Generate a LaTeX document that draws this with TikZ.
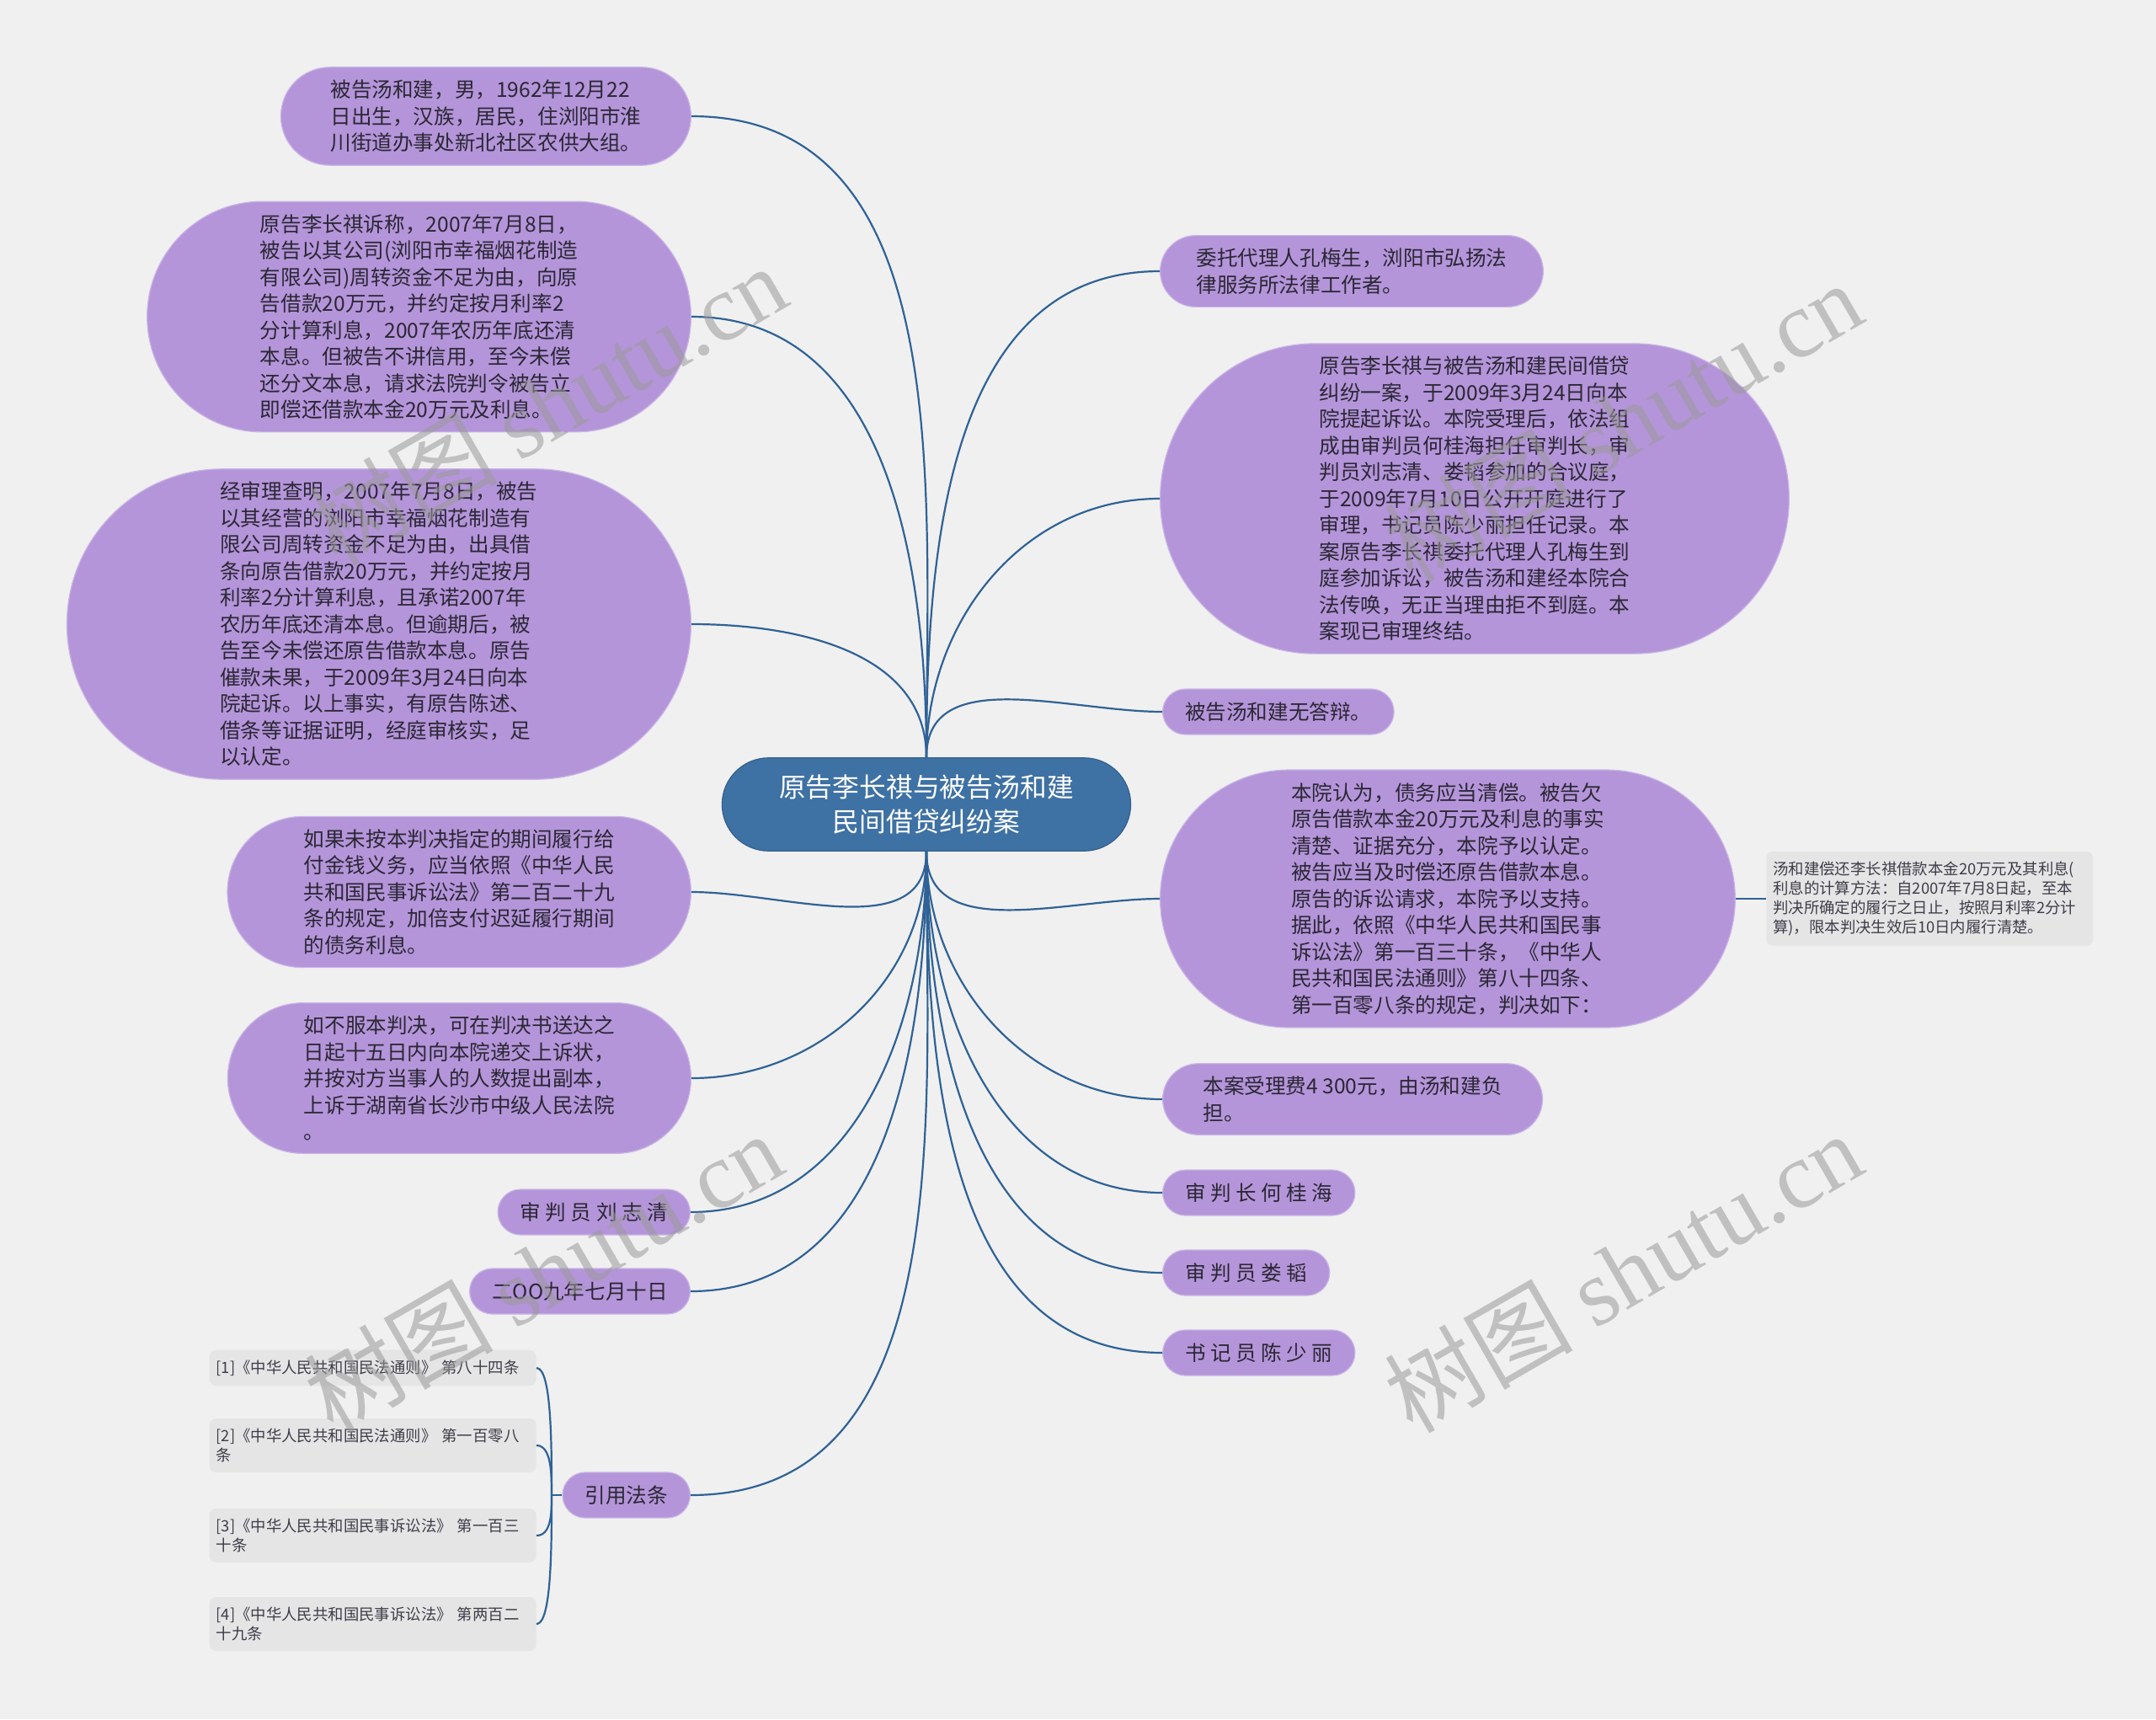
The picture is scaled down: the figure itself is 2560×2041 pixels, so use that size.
\documentclass[tikz,border=0pt]{standalone}
\usepackage{fontspec}
\usepackage{tikz}
\usetikzlibrary{positioning,shapes.misc}
\newfontfamily\cjk{Noto Sans CJK SC}
\newfontfamily\wmserif{Liberation Serif}
\definecolor{bggray}{HTML}{F0F0F0}
\definecolor{pillpurple}{HTML}{B495D9}
\definecolor{pilledge}{HTML}{C9B4E6}
\definecolor{rootblue}{HTML}{3E71A4}
\definecolor{linkblue}{HTML}{2F6296}
\definecolor{citegray}{HTML}{E5E5E5}
\definecolor{textdark}{HTML}{2B2735}
\tikzset{
  topic/.style={rounded rectangle,fill=pillpurple,draw=pilledge,line width=0.6pt,
    text=textdark,font=\cjk\fontsize{12.3}{15.75}\selectfont,align=left,
    inner xsep=12pt,inner ysep=7.6pt,minimum height=27pt},
  rootbox/.style={rounded rectangle,fill=rootblue,draw=rootblue!85!black,line width=0.6pt,
    text=white,font=\cjk\fontsize{15.9}{20.5}\selectfont,align=center,
    inner xsep=27.5pt,inner ysep=10pt},
  citebox/.style={rectangle,rounded corners=4pt,fill=citegray,text=textdark!90,
    font=\cjk\fontsize{9.2}{11.5}\selectfont,align=left,text width=186pt,
    inner xsep=4pt,inner ysep=6pt},
  branch/.style={draw=linkblue,line width=1.1pt},
  watermark/.style={font=\cjk\fontsize{56}{56}\selectfont,text=black!40,
    text opacity=0.55,rotate=30}
}
\begin{document}
\begin{tikzpicture}[x=0.5pt,y=-0.5pt]
\useasboundingbox (0,0) rectangle (2560,2041);
\fill[bggray] (0,0) rectangle (2560,2041);

% centre topic
\node[rootbox] (root) at (1100,955) {原告李长祺与被告汤和建\\民间借贷纠纷案};

% left side
\node[topic,anchor=east,inner xsep=20pt] (accused) at (821,138) {被告汤和建，男，1962年12月22\\日出生，汉族，居民，住浏阳市淮\\川街道办事处新北社区农供大组。};
\node[topic,anchor=east,inner xsep=30pt] (claim) at (821,376) {原告李长祺诉称，2007年7月8日，\\被告以其公司(浏阳市幸福烟花制造\\有限公司)周转资金不足为由，向原\\告借款20万元，并约定按月利率2\\分计算利息，2007年农历年底还清\\本息。但被告不讲信用，至今未偿\\还分文本息，请求法院判令被告立\\即偿还借款本金20万元及利息。};
\node[topic,anchor=east,inner xsep=35.5pt] (facts) at (821,741) {经审理查明，2007年7月8日，被告\\以其经营的浏阳市幸福烟花制造有\\限公司周转资金不足为由，出具借\\条向原告借款20万元，并约定按月\\利率2分计算利息，且承诺2007年\\农历年底还清本息。但逾期后，被\\告至今未偿还原告借款本息。原告\\催款未果，于2009年3月24日向本\\院起诉。以上事实，有原告陈述、\\借条等证据证明，经庭审核实，足\\以认定。};
\node[topic,anchor=east,inner xsep=25.5pt] (delay) at (821,1059) {如果未按本判决指定的期间履行给\\付金钱义务，应当依照《中华人民\\共和国民事诉讼法》第二百二十九\\条的规定，加倍支付迟延履行期间\\的债务利息。};
\node[topic,anchor=east,inner xsep=25.5pt] (appeal) at (821,1280) {如不服本判决，可在判决书送达之\\日起十五日内向本院递交上诉状，\\并按对方当事人的人数提出副本，\\上诉于湖南省长沙市中级人民法院\\。};
\node[topic,anchor=east] (judgeliu) at (820,1439) {审 判 员 刘 志 清};
\node[topic,anchor=east] (datenode) at (820,1533) {二OO九年七月十日};
\node[topic,anchor=east] (lawref) at (820,1775) {引用法条};

% citation list
\node[citebox,anchor=east] (law1) at (637,1624) {[1]《中华人民共和国民法通则》 第八十四条};
\node[citebox,anchor=east] (law2) at (637,1716) {[2]《中华人民共和国民法通则》 第一百零八\\条};
\node[citebox,anchor=east] (law3) at (637,1823) {[3]《中华人民共和国民事诉讼法》 第一百三\\十条};
\node[citebox,anchor=east] (law4) at (637,1928) {[4]《中华人民共和国民事诉讼法》 第两百二\\十九条};
\coordinate (fork) at (655,1775);

% right side
\node[topic,anchor=west,inner xsep=16.5pt] (agent) at (1377,322) {委托代理人孔梅生，浏阳市弘扬法\\律服务所法律工作者。};
\node[topic,anchor=west,inner xsep=39pt] (caseinfo) at (1377,592) {原告李长祺与被告汤和建民间借贷\\纠纷一案，于2009年3月24日向本\\院提起诉讼。本院受理后，依法组\\成由审判员何桂海担任审判长，审\\判员刘志清、娄韬参加的合议庭，\\于2009年7月10日公开开庭进行了\\审理，书记员陈少丽担任记录。本\\案原告李长祺委托代理人孔梅生到\\庭参加诉讼，被告汤和建经本院合\\法传唤，无正当理由拒不到庭。本\\案现已审理终结。};
\node[topic,anchor=west] (noreply) at (1380,845) {被告汤和建无答辩。};
\node[topic,anchor=west,inner xsep=34.5pt] (opinion) at (1377,1067) {本院认为，债务应当清偿。被告欠\\原告借款本金20万元及利息的事实\\清楚、证据充分，本院予以认定。\\被告应当及时偿还原告借款本息。\\原告的诉讼请求，本院予以支持。\\据此，依照《中华人民共和国民事\\诉讼法》第一百三十条，《中华人\\民共和国民法通则》第八十四条、\\第一百零八条的规定，判决如下：};
\node[citebox,right=18pt of opinion] (verdict) {汤和建偿还李长祺借款本金20万元及其利息(\\利息的计算方法：自2007年7月8日起，至本\\判决所确定的履行之日止，按照月利率2分计\\算)，限本判决生效后10日内履行清楚。};
\node[topic,anchor=west,inner xsep=19pt] (fee) at (1380,1305) {本案受理费4 300元，由汤和建负\\担。};
\node[topic,anchor=west] (chief) at (1380,1416) {审 判 长 何 桂 海};
\node[topic,anchor=west] (judgelou) at (1380,1511) {审 判 员 娄 韬};
\node[topic,anchor=west] (clerk) at (1380,1606) {书 记 员 陈 少 丽};

% connectors
\foreach \n in {accused,claim,facts}
  \draw[branch] (root.north) to[out=90,in=0] (\n.east);
\foreach \n in {delay,appeal,judgeliu,datenode,lawref}
  \draw[branch] (root.south) to[out=-90,in=0] (\n.east);
\foreach \n in {agent,caseinfo,noreply}
  \draw[branch] (root.north) to[out=90,in=180] (\n.west);
\foreach \n in {opinion,fee,chief,judgelou,clerk}
  \draw[branch] (root.south) to[out=-90,in=180] (\n.west);
\draw[branch] (opinion.east) -- (verdict.west);
\draw[branch] (lawref.west) -- (fork);
\foreach \n in {law1,law2}
  \draw[branch] (fork) to[out=90,in=0,in distance=9pt] (\n.east);
\foreach \n in {law3,law4}
  \draw[branch] (fork) to[out=-90,in=0,in distance=9pt] (\n.east);

% watermarks
\foreach \p/\q [count=\i] in {650/480,1927/500,645/1510,1927/1510}
  \node[watermark] (wm\i) at (\p,\q) {树图 {\wmserif shutu.cn}};
\end{tikzpicture}
\end{document}
